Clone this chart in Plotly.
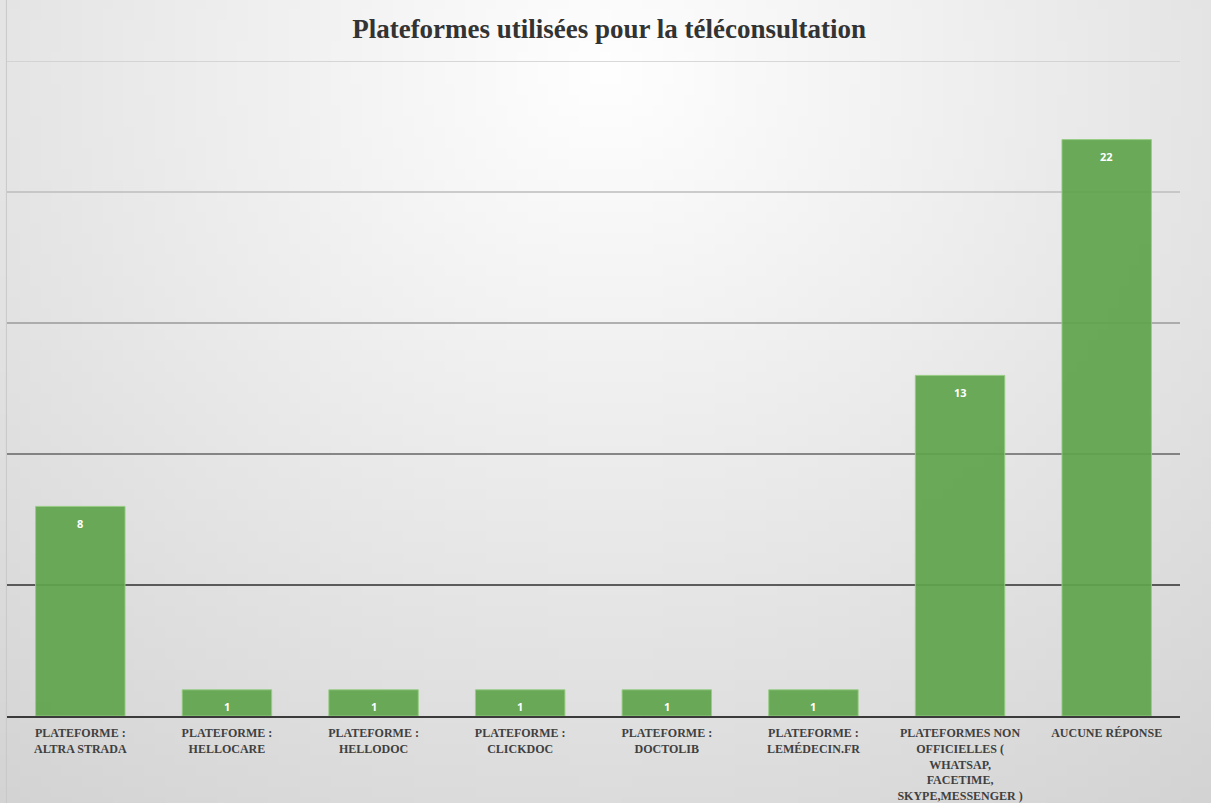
import base64, struct, zlib
import numpy as np
import plotly.graph_objects as go

categories = [
    "PLATEFORME :<br>ALTRA STRADA",
    "PLATEFORME :<br>HELLOCARE",
    "PLATEFORME :<br>HELLODOC",
    "PLATEFORME :<br>CLICKDOC",
    "PLATEFORME :<br>DOCTOLIB",
    "PLATEFORME :<br>LEMÉDECIN.FR",
    "PLATEFORMES NON<br>OFFICIELLES (<br>WHATSAP,<br>FACETIME,<br>SKYPE,MESSENGER )",
    "AUCUNE RÉPONSE",
]
values = [8, 1, 1, 1, 1, 1, 13, 22]
grid_values = [5, 10, 15, 20, 25]
grid_colors = ["#2e2e2e", "#646464", "#9a9a9a", "#bdbdbd", "#cdcdcd"]
title = "Plateformes utilisées pour la téléconsultation"

# radial gradient background as a small PNG
W, H = 120, 80
yy, xx = np.mgrid[0:H, 0:W]
dx = (xx / (W - 1) - 0.5) / 0.75
dy = (yy / (H - 1) - 0.1) / 1.0
d = np.sqrt(dx ** 2 + dy ** 2)
val = np.clip(255 - 40 * d, 208, 255).astype(np.uint8)

def png_bytes(arr):
    h, w = arr.shape
    raw = b"".join(b"\x00" + bytes(arr[i].tolist()) for i in range(h))
    def chunk(t, data):
        c = struct.pack(">I", len(data)) + t + data
        return c + struct.pack(">I", zlib.crc32(t + data) & 0xffffffff)
    return (b"\x89PNG\r\n\x1a\n" + chunk(b"IHDR", struct.pack(">IIBBBBB", w, h, 8, 0, 0, 0, 0))
            + chunk(b"IDAT", zlib.compress(raw, 9)) + chunk(b"IEND", b""))

bg_uri = "data:image/png;base64," + base64.b64encode(png_bytes(val)).decode()

fig = go.Figure()
fig.add_trace(go.Bar(
    x=categories, y=values,
    marker=dict(color="rgba(96,164,76,0.93)", line=dict(color="rgba(150,205,130,0.9)", width=1)),
    hoverinfo="skip",
))

annotations = [
    dict(x=c, y=v, xref="x", yref="y", text=str(v), showarrow=False, yanchor="middle", yshift=-17,
         font=dict(family="Open Sans, sans-serif", size=11, color="white", weight="bold"))
    for c, v in zip(categories, values)
]

shapes = []
for gv, gc in zip(grid_values, grid_colors):
    shapes.append(dict(type="line", xref="paper", yref="y", x0=0, x1=1, y0=gv, y1=gv,
                       line=dict(color=gc, width=1.6), layer="below"))
shapes.append(dict(type="line", xref="paper", yref="paper", x0=-0.0005, x1=-0.0005, y0=-0.2, y1=1.2,
                   line=dict(color="#c8c8c8", width=1), layer="above"))

fig.update_layout(
    width=1211, height=803,
    margin=dict(l=7, r=31, t=61, b=87, autoexpand=False),
    paper_bgcolor="#e2e2e2",
    plot_bgcolor="rgba(0,0,0,0)",
    title=dict(text=title, x=0.503, xanchor="center", y=0.965, yanchor="middle",
               font=dict(family="Liberation Serif, Times New Roman, serif", size=27, color="#333333", weight="bold")),
    bargap=0.39,
    showlegend=False,
    shapes=shapes,
    annotations=annotations,
    images=[dict(source=bg_uri, xref="paper", yref="paper", x=-0.02, y=1.12, sizex=1.06, sizey=1.3,
                 sizing="stretch", layer="below", xanchor="left", yanchor="top")],
    xaxis=dict(showgrid=False, showline=True, linecolor="#3a3a3a", linewidth=2, ticks="",
               automargin=False,
               tickfont=dict(family="Liberation Serif, Times New Roman, serif", size=12, color="#404040", weight="bold"),
               tickangle=0, ticklabelstandoff=5),
    yaxis=dict(range=[0, 25], showgrid=False, showticklabels=False, zeroline=False, fixedrange=True,
               automargin=False),
)

fig.write_html("out.html", config={"displayModeBar": False},
               post_script="document.body.style.margin='0';")
